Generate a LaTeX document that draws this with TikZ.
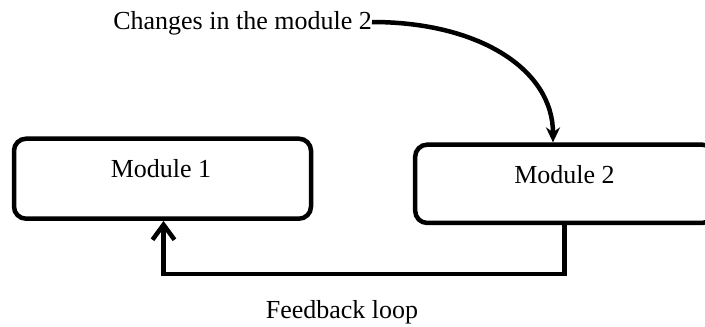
\documentclass[tikz,border=0pt]{standalone}
\usepackage{fontspec}
\setmainfont{Liberation Serif}
\usetikzlibrary{arrows.meta}
\begin{document}
\begin{tikzpicture}[x=1pt,y=-1pt,
  modbox/.style={draw, line width=4.5pt, rounded corners=12pt, inner sep=0pt},
  lbl/.style={font=\fontsize{26}{30}\selectfont, inner sep=0pt},
  conn/.style={line width=4.5pt}]
\useasboundingbox (0,0) rectangle (705,327);
\node[modbox, minimum width=297pt, minimum height=80pt] (m1) at (162.5,178.7) {};
\node[lbl, anchor=base] (t1) at (161,177.7) {Module 1};
\node[modbox, minimum width=299pt, minimum height=78.3pt] (m2) at (564.7,183.8) {};
\node[lbl, anchor=base] (t2) at (564.5,183.3) {Module 2};
\node[lbl, anchor=base east] (ch) at (372,29.3) {Changes in the module 2};
\node[lbl, anchor=base] (fb) at (342,318.3) {Feedback loop};
\coordinate (c1) at (564.7,274);
\coordinate (c2) at (163.5,274);
\draw[conn, -{Stealth[length=15pt,width=14pt]}] (ch.east |- 0,22) .. controls (480,22) and (553,70) .. (m2.north -| 553,0);
\draw[conn, -{Straight Barb[length=15pt,width=22pt,line width=4.5pt]}] (m2.south -| c1) -- (c1) -- (c2) -- (m1.south -| c2);
\end{tikzpicture}
\end{document}
